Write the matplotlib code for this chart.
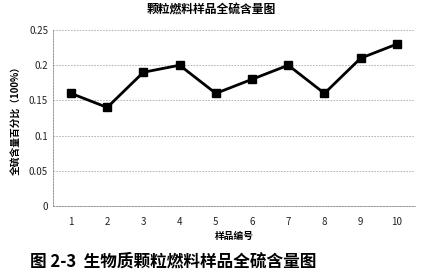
import matplotlib.pyplot as plt
import numpy as np

plt.rcParams['font.family'] = ['Noto Sans CJK SC', 'DejaVu Sans']

samples = [1, 2, 3, 4, 5, 6, 7, 8, 9, 10]
sulfur = [0.16, 0.14, 0.19, 0.20, 0.16, 0.18, 0.20, 0.16, 0.21, 0.23]
yticks = [0, 0.05, 0.1, 0.15, 0.2, 0.25]
ytick_labels = ['0', '0.05', '0.1', '0.15', '0.2', '0.25']

fig = plt.figure(figsize=(4.23, 2.78), dpi=100)
ax = fig.add_axes([0.125, 0.259, 0.856, 0.633])

ax.plot(samples, sulfur, 'k-s', linewidth=2, markersize=6)

ax.set_xlim(0.5, 10.5)
ax.set_ylim(0, 0.25)
ax.set_xticks(samples)
ax.set_yticks(yticks)
ax.set_yticklabels(ytick_labels)
ax.tick_params(length=0, labelsize=7, colors='#222222')
ax.tick_params(axis='x', pad=8)

ax.grid(axis='y', linestyle=(0, (2, 1.5)), color='#aaaaaa', linewidth=0.6)
for s in ['top', 'right']:
    ax.spines[s].set_visible(False)
for s in ['left', 'bottom']:
    ax.spines[s].set_linestyle((0, (2, 1.5)))
    ax.spines[s].set_color('#888888')
    ax.spines[s].set_linewidth(0.6)

ax.set_xlabel('样品编号', fontsize=7, fontweight='bold', labelpad=3)
ax.set_ylabel('全硫含量百分比（100%）', fontsize=7, fontweight='bold', labelpad=6)
fig.text(0.5, 0.965, '颗粒燃料样品全硫含量图', ha='center', va='center',
         fontsize=8.5, fontweight='bold')
fig.text(0.41, 0.058, '图 2-3  生物质颗粒燃料样品全硫含量图', ha='center', va='center',
         fontsize=12, fontweight='bold')

fig.savefig('out.png', dpi=100)
